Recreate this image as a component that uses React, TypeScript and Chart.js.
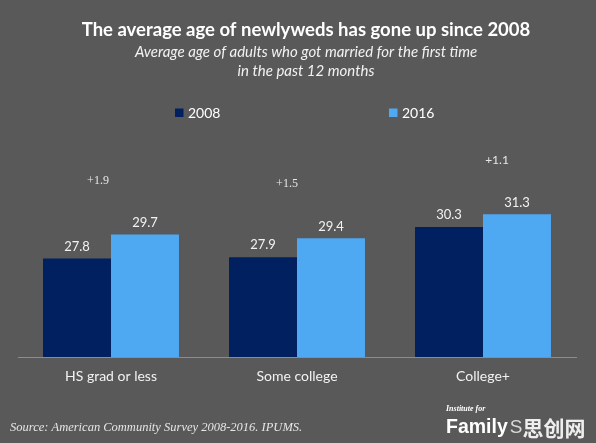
import React, { useEffect, useRef } from "react";
import { Chart, registerables } from "chart.js";

Chart.register(...registerables);

const categories = ["HS grad or less", "Some college", "College+"];
const series2008 = [27.8, 27.9, 30.3];
const series2016 = [29.7, 29.4, 31.3];
const seriesLabels = ["2008", "2016"];
const diffLabels = ["+1.9", "+1.5", "+1.1"];
const yMin = 20;
const yMax = 36;

const titleText = "The average age of newlyweds has gone up since 2008";
const subtitleLines = [
  "Average age of adults who got married for the first time",
  "in the past 12 months",
];
const sourceText = "Source: American Community Survey 2008-2016. IPUMS.";

const BG = "#595959";
const DARK = "#002060";
const LIGHT = "#4FA8F2";
const SANS = "Lato, 'Open Sans', sans-serif";
const SERIF = "'Liberation Serif', 'DejaVu Serif', serif";

// style-only tweaks for the annotation labels
const diffNudgeX = [-13, -10, 14];
const diffFonts = [`12px ${SERIF}`, `12px ${SERIF}`, `12px ${SANS}`];
const legendX = [175, 389];

const overlayPlugin = {
  id: "overlay",
  beforeDraw(chart: any) {
    const ctx = chart.ctx;
    ctx.save();
    ctx.fillStyle = BG;
    ctx.fillRect(0, 0, chart.width, chart.height);
    ctx.restore();
  },
  afterDraw(chart: any) {
    const ctx = chart.ctx;
    const xScale = chart.scales.x;
    const yScale = chart.scales.y;
    ctx.save();
    // Title
    ctx.textAlign = "center";
    ctx.textBaseline = "middle";
    ctx.fillStyle = "#ffffff";
    ctx.font = `bold 18.5px ${SANS}`;
    ctx.fillText(titleText, 306, 30);
    ctx.fillStyle = "#f2f2f2";
    ctx.font = `italic 15px ${SANS}`;
    subtitleLines.forEach((l, i) => ctx.fillText(l, 306, 52 + i * 19));

    // Legend
    chart.data.datasets.forEach((ds: any, i: number) => {
      const x = legendX[i];
      ctx.fillStyle = ds.backgroundColor;
      ctx.fillRect(x, 108.5, 8.5, 8.5);
      ctx.fillStyle = "#ffffff";
      ctx.font = `14px ${SANS}`;
      ctx.textAlign = "left";
      ctx.fillText(ds.label, x + 13, 113);
    });

    // Value labels
    ctx.textAlign = "center";
    ctx.fillStyle = "#f2f2f2";
    ctx.font = `13px ${SANS}`;
    chart.data.datasets.forEach((ds: any, di: number) => {
      const meta = chart.getDatasetMeta(di);
      meta.data.forEach((bar: any, i: number) => {
        ctx.fillText(String(ds.data[i].toFixed(1)), bar.x, bar.y - 12);
      });
    });

    // Difference annotations
    ctx.fillStyle = "#e6e6e6";
    diffLabels.forEach((t, i) => {
      const top = Math.max(series2008[i], series2016[i]);
      const x = xScale.getPixelForValue(i) + diffNudgeX[i];
      const y = yScale.getPixelForValue(top) - 54;
      ctx.font = diffFonts[i];
      ctx.fillText(t, x, y);
    });

    // Source
    ctx.textAlign = "left";
    ctx.fillStyle = "#e6e6e6";
    ctx.font = `italic 12.5px ${SERIF}`;
    ctx.fillText(sourceText, 10, 428);

    // Logo
    ctx.fillStyle = "#ffffff";
    ctx.font = `italic bold 8px ${SERIF}`;
    ctx.fillText("Institute for", 446, 409);
    ctx.font = `bold 19.5px 'Liberation Sans', Arial, sans-serif`;
    ctx.fillText("Family", 446, 428);
    const fw = ctx.measureText("Family").width;
    ctx.fillStyle = "#d9d9d9";
    ctx.font = `19px 'Liberation Sans', Arial, sans-serif`;
    ctx.fillText("S", 446 + fw + 2, 428);
    const sw = ctx.measureText("S").width;
    ctx.fillStyle = "#eeeeee";
    ctx.font = `bold 21px 'Noto Sans CJK SC', sans-serif`;
    ctx.fillText("思创网", 446 + fw + 2 + sw, 428);
    ctx.restore();
  },
};

export default function App() {
  const ref = useRef<HTMLCanvasElement | null>(null);
  useEffect(() => {
    document.body.style.margin = "0";
    if (!ref.current) return;
    const chart = new Chart(ref.current, {
      type: "bar",
      data: {
        labels: categories,
        datasets: [
          { label: seriesLabels[0], data: series2008, backgroundColor: DARK },
          { label: seriesLabels[1], data: series2016, backgroundColor: LIGHT },
        ],
      },
      options: {
        responsive: false,
        animation: false,
        devicePixelRatio: 1,
        layout: { padding: { left: 18, right: 20, top: 155, bottom: 47.2 } },
        datasets: {
          bar: { categoryPercentage: 0.731, barPercentage: 1.0 },
        },
        plugins: {
          legend: { display: false },
          title: { display: false },
          tooltip: { enabled: false },
        },
        scales: {
          x: {
            grid: { display: false, drawTicks: false },
            border: { display: true, color: "#8c8c8c", width: 1 },
            ticks: {
              color: "#f2f2f2",
              padding: 11,
              font: { family: SANS, size: 14 },
            },
          },
          y: { display: false, min: yMin, max: yMax },
        },
      },
      plugins: [overlayPlugin],
    });
    return () => chart.destroy();
  }, []);
  return (
    <div style={{ width: 596, height: 443, background: BG }}>
      <canvas ref={ref} width={596} height={443} />
    </div>
  );
}
